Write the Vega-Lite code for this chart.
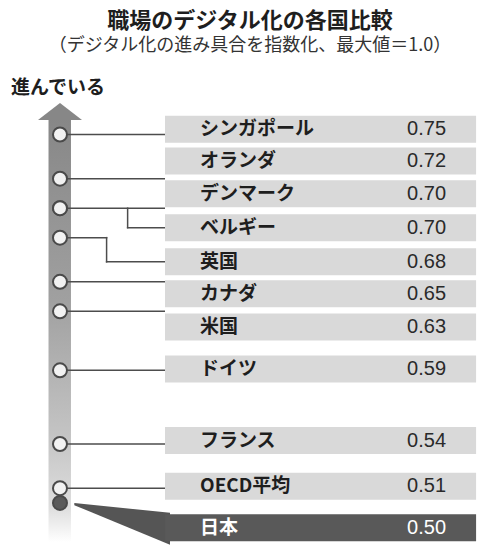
{
  "$schema": "https://vega.github.io/schema/vega-lite/v6.json",
  "width": 478,
  "height": 489,
  "autosize": {"type": "none"},
  "padding": {"top": 58, "left": 0, "right": 0, "bottom": 0},
  "background": "white",
  "title": {
    "text": "職場のデジタル化の各国比較",
    "subtitle": "（デジタル化の進み具合を指数化、最大値＝1.0）",
    "anchor": "middle",
    "frame": "group",
    "dx": 11,
    "font": "Noto Sans CJK JP",
    "fontSize": 22,
    "fontWeight": "bold",
    "color": "#1e1e1e",
    "subtitleFont": "Noto Sans CJK JP",
    "subtitleFontSize": 18,
    "subtitleColor": "#333333",
    "subtitlePadding": 4,
    "offset": 2
  },
  "config": {
    "view": {"stroke": null},
    "axis": {"disable": true},
    "legend": {"disable": true}
  },
  "data": {
    "values": [
      {"country": "シンガポール", "value": 0.75, "labelPos": 0.7536},
      {"country": "オランダ", "value": 0.72, "labelPos": 0.7320},
      {"country": "デンマーク", "value": 0.70, "labelPos": 0.7098},
      {"country": "ベルギー", "value": 0.70, "labelPos": 0.6868},
      {"country": "英国", "value": 0.68, "labelPos": 0.6636},
      {"country": "カナダ", "value": 0.65, "labelPos": 0.6420},
      {"country": "米国", "value": 0.63, "labelPos": 0.6194},
      {"country": "ドイツ", "value": 0.59, "labelPos": 0.5908},
      {"country": "フランス", "value": 0.54, "labelPos": 0.5423},
      {"country": "OECD平均", "value": 0.51, "labelPos": 0.5114},
      {"country": "日本", "value": 0.50, "labelPos": 0.4831}
    ]
  },
  "layer": [
    {
      "data": {"values": [{}]},
      "mark": {
        "type": "rect",
        "fill": {
          "gradient": "linear", "x1": 0, "y1": 0, "x2": 0, "y2": 1,
          "stops": [
            {"offset": 0, "color": "#878787"},
            {"offset": 0.43, "color": "#a0a0a0"},
            {"offset": 0.75, "color": "#c4c4c4"},
            {"offset": 0.92, "color": "#dedede"},
            {"offset": 1, "color": "#ffffff"}
          ]
        }
      },
      "encoding": {
        "x": {"datum": 10.15, "type": "quantitative", "scale": {"domain": [0, 100], "nice": false, "zero": false}},
        "x2": {"datum": 14.85},
        "y": {"datum": 0.7613, "type": "quantitative", "scale": {"domain": [0.4735, 0.7985], "nice": false, "zero": false}},
        "y2": {"datum": 0.4735}
      }
    },
    {
      "data": {"values": [{}]},
      "mark": {"type": "point", "shape": "M-1,0.386L0,-0.386L1,0.386Z", "size": 1936, "filled": true, "color": "#878787", "opacity": 1, "strokeWidth": 0},
      "encoding": {
        "x": {"datum": 12.55, "type": "quantitative"},
        "y": {"datum": 0.7656, "type": "quantitative"}
      }
    },
    {
      "transform": [{"filter": "indexof(['ベルギー','英国','日本'], datum.country) < 0"}],
      "mark": {"type": "rule", "color": "#4d4d4d", "strokeWidth": 1.5},
      "encoding": {
        "x": {"datum": 12.55, "type": "quantitative"},
        "x2": {"datum": 34.52},
        "y": {"field": "value", "type": "quantitative"}
      }
    },
    {
      "transform": [{"filter": "datum.country === '英国'"}],
      "layer": [
        {
          "mark": {"type": "rule", "color": "#4d4d4d", "strokeWidth": 1.5, "strokeCap": "square"},
          "encoding": {
            "x": {"datum": 12.55, "type": "quantitative"},
            "x2": {"datum": 22.3},
            "y": {"field": "value", "type": "quantitative"}
          }
        },
        {
          "mark": {"type": "rule", "color": "#4d4d4d", "strokeWidth": 1.5, "strokeCap": "square"},
          "encoding": {
            "x": {"datum": 22.3, "type": "quantitative"},
            "y": {"field": "value", "type": "quantitative"},
            "y2": {"field": "labelPos"}
          }
        },
        {
          "mark": {"type": "rule", "color": "#4d4d4d", "strokeWidth": 1.5, "strokeCap": "square"},
          "encoding": {
            "x": {"datum": 22.3, "type": "quantitative"},
            "x2": {"datum": 34.52},
            "y": {"field": "labelPos", "type": "quantitative"}
          }
        }
      ]
    },
    {
      "transform": [{"filter": "datum.country === 'ベルギー'"}],
      "layer": [
        {
          "mark": {"type": "rule", "color": "#4d4d4d", "strokeWidth": 1.5, "strokeCap": "square"},
          "encoding": {
            "x": {"datum": 26.7, "type": "quantitative"},
            "y": {"field": "value", "type": "quantitative"},
            "y2": {"field": "labelPos"}
          }
        },
        {
          "mark": {"type": "rule", "color": "#4d4d4d", "strokeWidth": 1.5, "strokeCap": "square"},
          "encoding": {
            "x": {"datum": 26.7, "type": "quantitative"},
            "x2": {"datum": 34.52},
            "y": {"field": "labelPos", "type": "quantitative"}
          }
        }
      ]
    },
    {
      "transform": [{"filter": "datum.country === '日本'"}],
      "mark": {"type": "point", "shape": "M0.13,0L1,0.09L1,0.38L0.13,0.02Z", "size": 48400, "filled": true, "color": "#555555", "opacity": 1, "strokeWidth": 0},
      "encoding": {
        "x": {"datum": 12.55, "type": "quantitative"},
        "y": {"field": "value", "type": "quantitative"}
      }
    },
    {
      "mark": {"type": "bar", "size": 27},
      "encoding": {
        "x": {"datum": 34.52, "type": "quantitative"},
        "x2": {"datum": 99.6},
        "y": {"field": "labelPos", "type": "quantitative"},
        "color": {"condition": {"test": "datum.country === '日本'", "value": "#595959"}, "value": "#d9d9d9"}
      }
    },
    {
      "mark": {"type": "point", "filled": true, "size": 196, "stroke": "#4a4a4a", "strokeWidth": 2, "opacity": 1},
      "encoding": {
        "x": {"datum": 12.55, "type": "quantitative"},
        "y": {"field": "value", "type": "quantitative"},
        "fill": {"condition": {"test": "datum.country === '日本'", "value": "#5a5a5a"}, "value": "#f2f2f2"}
      }
    },
    {
      "mark": {"type": "text", "align": "left", "baseline": "middle", "font": "Noto Sans CJK JP", "fontSize": 19, "fontWeight": "bold"},
      "encoding": {
        "x": {"datum": 41.84, "type": "quantitative"},
        "y": {"field": "labelPos", "type": "quantitative"},
        "text": {"field": "country"},
        "color": {"condition": {"test": "datum.country === '日本'", "value": "#ffffff"}, "value": "#1e1e1e"}
      }
    },
    {
      "mark": {"type": "text", "align": "right", "baseline": "middle", "font": "Liberation Sans", "fontSize": 20},
      "encoding": {
        "x": {"datum": 93.31, "type": "quantitative"},
        "y": {"field": "labelPos", "type": "quantitative"},
        "text": {"field": "value", "format": ".2f"},
        "color": {"condition": {"test": "datum.country === '日本'", "value": "#ffffff"}, "value": "#2a2a2a"}
      }
    },
    {
      "data": {"values": [{}]},
      "mark": {"type": "text", "text": "進んでいる", "align": "left", "baseline": "middle", "font": "Noto Sans CJK JP", "fontSize": 19, "fontWeight": "bold", "color": "#1e1e1e"},
      "encoding": {
        "x": {"datum": 2.3, "type": "quantitative"},
        "y": {"datum": 0.7816, "type": "quantitative"}
      }
    }
  ]
}
